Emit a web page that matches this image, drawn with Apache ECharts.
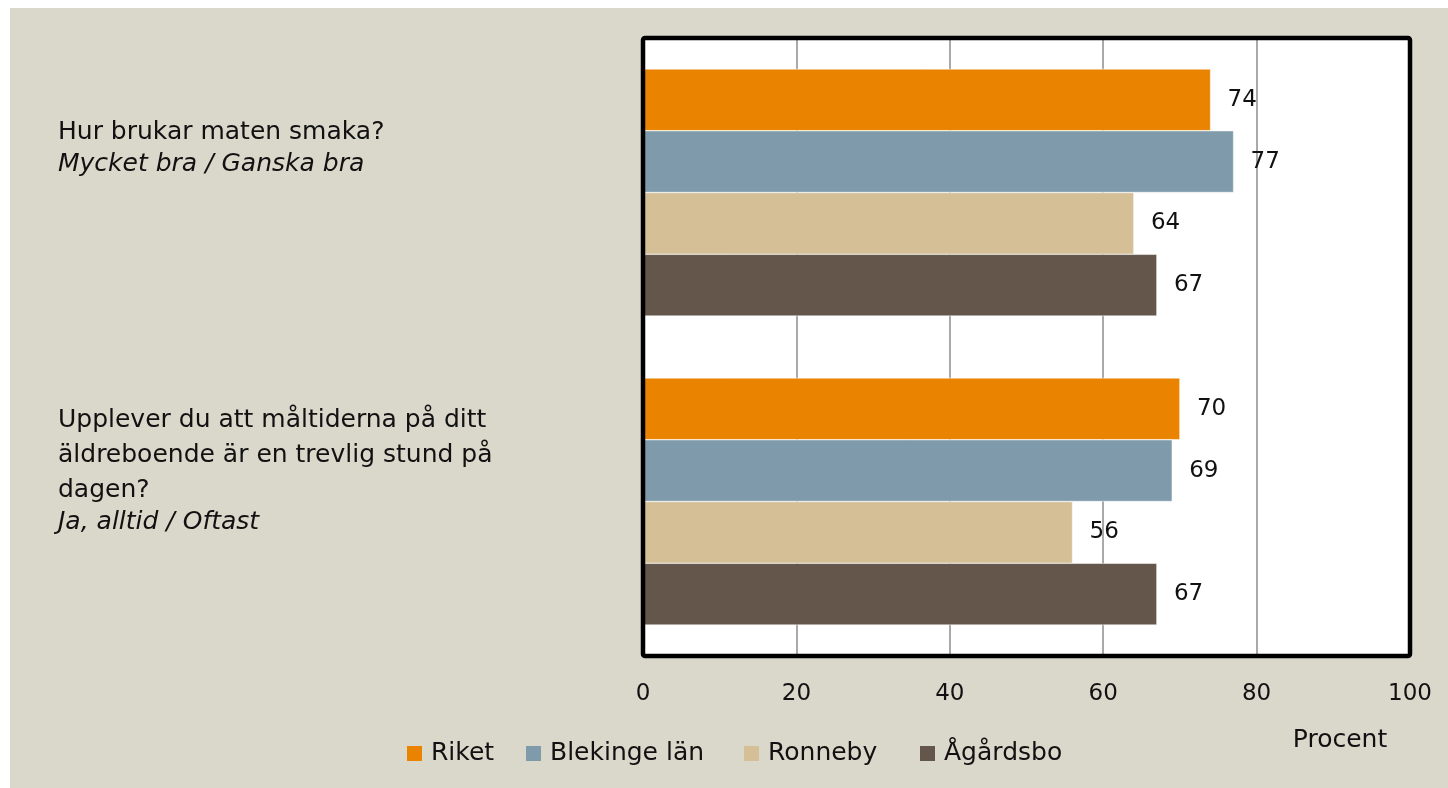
<!DOCTYPE html>
<html>
<head>
<meta charset="utf-8">
<script src="https://cdn.jsdelivr.net/npm/echarts@6/dist/echarts.min.js"></script>
<style>
html,body{margin:0;padding:0;background:#ffffff;width:1448px;height:788px;overflow:hidden;}
#chart{position:absolute;left:10px;top:8px;width:1438px;height:780px;}
</style>
</head>
<body>
<div id="chart"></div>
<script>
var categories = ['Hur brukar maten smaka?', 'Upplever du att måltiderna på ditt äldreboende är en trevlig stund på dagen?'];
var questionLines = [
  ['Hur brukar maten smaka?'],
  ['Upplever du att måltiderna på ditt', 'äldreboende är en trevlig stund på', 'dagen?']
];
var answerLines = ['Mycket bra / Ganska bra', 'Ja, alltid / Oftast'];
var seriesNames = ['Riket', 'Blekinge län', 'Ronneby', 'Ågårdsbo'];
var riket = [74, 70];
var blekinge = [77, 69];
var ronneby = [64, 56];
var agardsbo = [67, 67];
var xTicks = [0, 20, 40, 60, 80, 100];
var axisName = 'Procent';

// styling
var colors = ['#E98300', '#7F9AAB', '#D4BF96', '#64564A'];
var legendLefts = [397, 516, 734, 910];
var FONT = 'DejaVu Sans';
var FS = 23;
var FS_TEXT = 25;
var values = [riket, blekinge, ronneby, agardsbo];

var GRID = { left: 633, top: 30, width: 767, height: 618 };

var chart = echarts.init(document.getElementById('chart'));

function labelText(i) {
  var parts = questionLines[i].map(function (l) { return '{q|' + l + '}'; });
  parts.push('{i|' + answerLines[i] + '}');
  return parts.join('\n');
}
var labelTops = [112, 400];

var graphics = categories.map(function (c, i) {
  return {
    type: 'text', left: 48, top: labelTops[i],
    style: {
      text: labelText(i),
      rich: {
        q: { fontFamily: FONT, fontSize: FS_TEXT, lineHeight: 35, fill: '#111111', color: '#111111' },
        i: { fontFamily: FONT, fontSize: FS_TEXT, lineHeight: 28, fontStyle: 'italic', fill: '#111111', color: '#111111' }
      }
    }
  };
});
graphics.push({
  type: 'rect', z: 100, silent: true,
  shape: { x: GRID.left, y: GRID.top, width: GRID.width, height: GRID.height, r: 2 },
  style: { fill: 'none', stroke: '#000000', lineWidth: 4.5 }
});

var legends = seriesNames.map(function (n, k) {
  return {
    data: [n],
    left: legendLefts[k], top: 733, padding: 0,
    icon: 'rect', itemWidth: 15, itemHeight: 15,
    itemStyle: { borderWidth: 0 },
    textStyle: { fontFamily: FONT, fontSize: FS_TEXT, color: '#111111', padding: [0,0,0,4] }
  };
});

var option = {
  backgroundColor: '#DAD7CB',
  textStyle: { fontFamily: FONT },
  color: colors,
  grid: {
    left: GRID.left, width: GRID.width, top: GRID.top, height: GRID.height,
    show: true, backgroundColor: '#ffffff', borderWidth: 0,
    containLabel: false
  },
  legend: legends,
  xAxis: {
    type: 'value', min: 0, max: 100, interval: 20,
    name: axisName, nameLocation: 'end', nameGap: -70,
    nameTextStyle: { fontFamily: FONT, fontSize: FS_TEXT, color: '#111111', align: 'center', verticalAlign: 'top', padding: [72, 0, 0, 0] },
    axisLine: { show: false }, axisTick: { show: false },
    axisLabel: { fontFamily: FONT, fontSize: FS, color: '#111111', margin: 27,
      formatter: function (v) { return xTicks.indexOf(v) >= 0 ? String(v) : ''; } },
    splitLine: { show: true, lineStyle: { color: '#8C8C8C', width: 1.5 } }
  },
  yAxis: {
    type: 'category', data: categories, inverse: true,
    axisLine: { show: false }, axisTick: { show: false }, axisLabel: { show: false },
    splitLine: { show: false }
  },
  graphic: graphics,
  series: seriesNames.map(function (n, k) {
    return {
      name: n, type: 'bar', data: values[k],
      barGap: '0%', barCategoryGap: '20%',
      itemStyle: { color: colors[k], borderColor: '#ffffff', borderWidth: 0.5 },
      label: { show: true, position: 'right', distance: 17, fontFamily: FONT, fontSize: FS, color: '#111111' },
      emphasis: { disabled: true }
    };
  })
};
chart.setOption(option);
</script>
</body>
</html>
